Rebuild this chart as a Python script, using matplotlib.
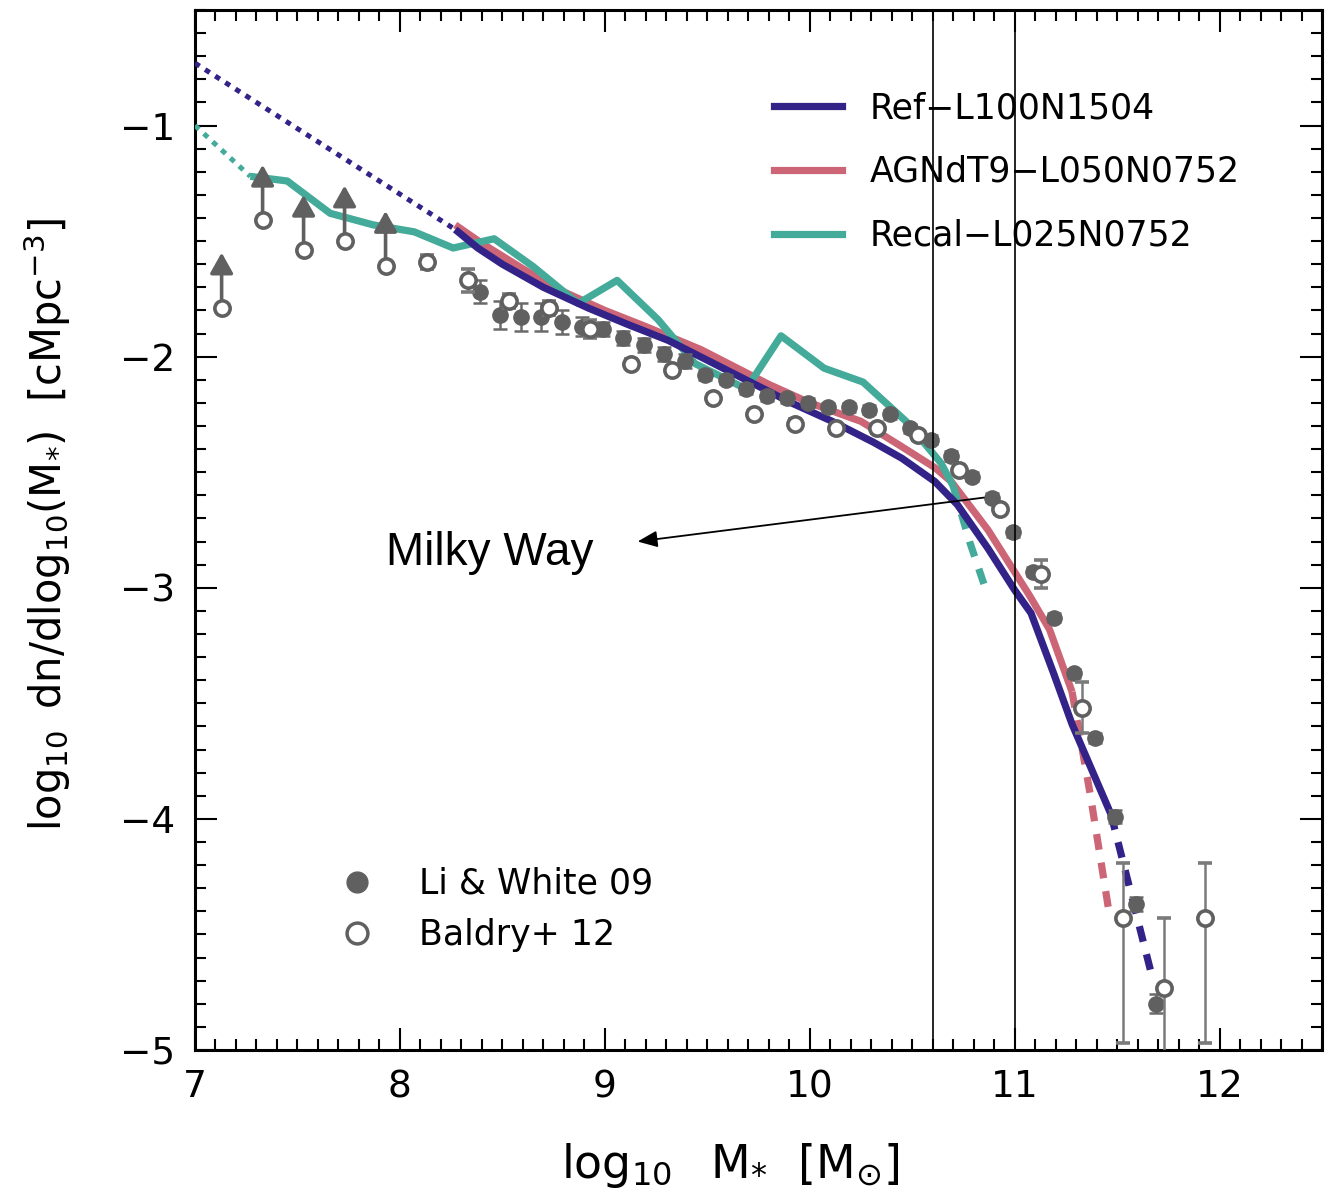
import numpy as np
import matplotlib
matplotlib.use('Agg')
import matplotlib.pyplot as plt
from matplotlib.lines import Line2D
from matplotlib.ticker import MultipleLocator

plt.rcParams['font.family'] = ['DejaVu Sans']
plt.rcParams['mathtext.fontset'] = 'dejavusans'

# --- simulation curves: log10 M* and log10 dn/dlog10 M* ---
ref_x = [8.27, 8.38, 8.50, 8.70, 8.92, 9.11, 9.31, 9.51, 9.71, 9.91, 10.11,
         10.31, 10.45, 10.61, 10.72, 10.87, 11.00, 11.08, 11.19, 11.28, 11.47]
ref_y = [-1.45, -1.53, -1.60, -1.70, -1.79, -1.86, -1.93, -2.02, -2.11, -2.20, -2.28,
         -2.37, -2.44, -2.54, -2.64, -2.83, -3.01, -3.11, -3.37, -3.59, -3.98]
ref_lo_x = [7.00, 8.27]
ref_lo_y = [-0.73, -1.45]
ref_hi_x = [11.47, 11.57, 11.67]
ref_hi_y = [-3.98, -4.33, -4.68]

agn_x = [8.27, 8.40, 8.60, 8.80, 9.00, 9.20, 9.47, 9.80, 10.00, 10.25, 10.45,
         10.61, 10.69, 10.87, 11.07, 11.17, 11.28]
agn_y = [-1.43, -1.51, -1.62, -1.72, -1.80, -1.87, -1.97, -2.12, -2.20, -2.28, -2.39,
         -2.48, -2.54, -2.75, -3.03, -3.18, -3.45]
agn_hi_x = [11.28, 11.37, 11.46]
agn_hi_y = [-3.45, -3.90, -4.40]

recal_x = [7.27, 7.45, 7.66, 7.87, 8.07, 8.26, 8.46, 8.65, 8.87, 9.06, 9.26,
           9.44, 9.69, 9.86, 10.07, 10.26, 10.47, 10.64, 10.70]
recal_y = [-1.22, -1.24, -1.38, -1.43, -1.46, -1.53, -1.49, -1.61, -1.77, -1.67, -1.84,
           -2.03, -2.14, -1.91, -2.05, -2.11, -2.28, -2.46, -2.56]
recal_lo_x = [7.00, 7.27]
recal_lo_y = [-1.00, -1.22]
recal_hi_x = [10.70, 10.78, 10.86]
recal_hi_y = [-2.56, -2.80, -3.01]

# --- observations ---
li_x = [8.39, 8.49, 8.59, 8.69, 8.79, 8.89, 8.99, 9.09, 9.19, 9.29, 9.39, 9.49,
        9.59, 9.69, 9.79, 9.89, 9.99, 10.09, 10.19, 10.29, 10.39, 10.49, 10.59,
        10.69, 10.79, 10.89, 10.99, 11.09, 11.19, 11.29, 11.39, 11.49, 11.59, 11.69]
li_y = [-1.72, -1.82, -1.83, -1.83, -1.85, -1.87, -1.88, -1.92, -1.95, -1.99, -2.02, -2.08,
        -2.10, -2.14, -2.17, -2.18, -2.20, -2.22, -2.22, -2.23, -2.25, -2.31, -2.36,
        -2.43, -2.52, -2.61, -2.76, -2.93, -3.13, -3.37, -3.65, -3.99, -4.37, -4.80]
li_err = [0.05, 0.06, 0.06, 0.06, 0.05, 0.04, 0.03, 0.03, 0.03, 0.03, 0.03, 0.02,
          0.02, 0.02, 0.02, 0.02, 0.02, 0.02, 0.02, 0.02, 0.02, 0.02, 0.02,
          0.02, 0.02, 0.02, 0.02, 0.02, 0.02, 0.02, 0.02, 0.03, 0.03, 0.04]

baldry_x = [8.13, 8.33, 8.53, 8.73, 8.93, 9.13, 9.33, 9.53, 9.73, 9.93, 10.13,
            10.33, 10.53, 10.73, 10.93, 11.13, 11.33, 11.53, 11.73, 11.93]
baldry_y = [-1.59, -1.67, -1.76, -1.79, -1.88, -2.03, -2.06, -2.18, -2.25, -2.29, -2.31,
            -2.31, -2.34, -2.49, -2.66, -2.94, -3.52, -4.43, -4.73, -4.43]
baldry_err_lo = [0.03, 0.05, 0.03, 0.03, 0.04, 0.02, 0.02, 0.02, 0.02, 0.02, 0.02,
                 0.02, 0.02, 0.02, 0.02, 0.06, 0.11, 0.54, 0.35, 0.54]
baldry_err_hi = [0.03, 0.05, 0.03, 0.03, 0.04, 0.02, 0.02, 0.02, 0.02, 0.02, 0.02,
                 0.02, 0.02, 0.02, 0.02, 0.06, 0.11, 0.24, 0.30, 0.24]
# lower limits at the low-mass end
baldry_lim_x = [7.13, 7.33, 7.53, 7.73, 7.93]
baldry_lim_y = [-1.79, -1.41, -1.54, -1.50, -1.61]

mw_lo, mw_hi = 10.6, 11.0

c_ref = '#332288'
c_agn = '#CC6677'
c_recal = '#44AA99'
c_obs = '#606060'

fig = plt.figure(figsize=(13.3, 11.99), dpi=100)
ax = fig.add_axes([0.1466, 0.1243, 0.8474, 0.8674])

lw = 5.2
dotted = (0, (1.1, 1.3))
dashed = (0, (2.2, 1.8))
ax.plot(agn_x, agn_y, color=c_agn, lw=lw, zorder=3, solid_capstyle='butt')
ax.plot(agn_hi_x, agn_hi_y, color=c_agn, lw=lw, ls=dashed, zorder=3)
ax.plot(recal_x, recal_y, color=c_recal, lw=lw, zorder=4, solid_capstyle='butt')
ax.plot(recal_lo_x, recal_lo_y, color=c_recal, lw=3.6, ls=dotted, zorder=4)
ax.plot(recal_hi_x, recal_hi_y, color=c_recal, lw=lw, ls=dashed, zorder=4)
ax.plot(ref_x, ref_y, color=c_ref, lw=lw, zorder=5, solid_capstyle='butt')
ax.plot(ref_lo_x, ref_lo_y, color=c_ref, lw=3.6, ls=dotted, zorder=5)
ax.plot(ref_hi_x, ref_hi_y, color=c_ref, lw=lw, ls=dashed, zorder=5)

# Li & White 2009
ax.errorbar(li_x, li_y, yerr=li_err, fmt='o', color=c_obs, ms=11, mec=c_obs,
            ecolor='#6a6a6a', elinewidth=1.8, capsize=5, capthick=1.8, zorder=6)
# Baldry et al. 2012
ax.errorbar(baldry_x, baldry_y, yerr=[baldry_err_lo, baldry_err_hi], fmt='o',
            mfc='white', mec=c_obs, mew=2.6, ms=11, ecolor='#7a7a7a',
            elinewidth=1.8, capsize=5, capthick=1.8, zorder=7)
for x, y in zip(baldry_lim_x, baldry_lim_y):
    ax.annotate('', xy=(x, y + 0.24), xytext=(x, y),
                arrowprops=dict(arrowstyle='-|>,head_length=0.5,head_width=0.28',
                                color=c_obs, lw=2.6, mutation_scale=25,
                                shrinkA=0, shrinkB=0), zorder=6)
ax.plot(baldry_lim_x, baldry_lim_y, 'o', mfc='white', mec=c_obs, mew=2.6, ms=11, zorder=7)

# Milky Way mass range
ax.axvline(mw_lo, color='black', lw=1.2, zorder=8)
ax.axvline(mw_hi, color='black', lw=1.2, zorder=8)
ax.annotate('', xy=(9.16, -2.80), xytext=(10.85, -2.61),
            arrowprops=dict(arrowstyle='-|>,head_length=0.6,head_width=0.25',
                            color='black', lw=1.3, mutation_scale=20,
                            shrinkA=0, shrinkB=0), zorder=8)
ax.text(8.44, -2.85, 'Milky Way', fontsize=33, family='Liberation Sans',
        ha='center', va='center', zorder=8)

ax.set_xlim(7, 12.5)
ax.set_ylim(-5, -0.5)
ax.xaxis.set_major_locator(MultipleLocator(1))
ax.xaxis.set_minor_locator(MultipleLocator(0.1))
ax.yaxis.set_major_locator(MultipleLocator(1))
ax.yaxis.set_minor_locator(MultipleLocator(0.1))
ax.tick_params(which='both', direction='in', top=True, right=True, width=1.5,
               labelsize=27)
ax.tick_params(which='major', length=16, pad=14)
ax.tick_params(which='minor', length=8)
for sp in ax.spines.values():
    sp.set_linewidth(2.2)

ax.set_xlabel(r'$\log_{10}\ \ \mathrm{M}_{*}\ \ [\mathrm{M}_{\odot}]$', fontsize=33)
ax.xaxis.set_label_coords(0.475, -0.088)
ax.set_ylabel(r'$\log_{10}\ \mathrm{dn/dlog_{10}(M_{*})}\ \ [\mathrm{cMpc^{-3}}]$',
              fontsize=30)
ax.yaxis.set_label_coords(-0.108, 0.505)

sim_handles = [Line2D([], [], color=c_ref, lw=lw),
               Line2D([], [], color=c_agn, lw=lw),
               Line2D([], [], color=c_recal, lw=lw)]
leg1 = ax.legend(sim_handles, ['Ref\u2212L100N1504', 'AGNdT9\u2212L050N0752',
                               'Recal\u2212L025N0752'],
                 loc='upper left', bbox_to_anchor=(0.514, 0.922), frameon=False,
                 fontsize=25, handlelength=1.95, handletextpad=0.8,
                 labelspacing=0.86, borderpad=0, borderaxespad=0)
ax.add_artist(leg1)

obs_handles = [Line2D([], [], ls='', marker='o', color=c_obs, ms=15),
               Line2D([], [], ls='', marker='o', mfc='white', mec=c_obs, mew=2.5, ms=15)]
ax.legend(obs_handles, ['Li & White 09', 'Baldry+ 12'], loc='upper left',
          bbox_to_anchor=(0.128, 0.176), frameon=False, fontsize=25,
          handlelength=1.0, handletextpad=1.3, labelspacing=0.5,
          borderpad=0, borderaxespad=0)

fig.savefig('out.png', dpi=100, facecolor='white')
